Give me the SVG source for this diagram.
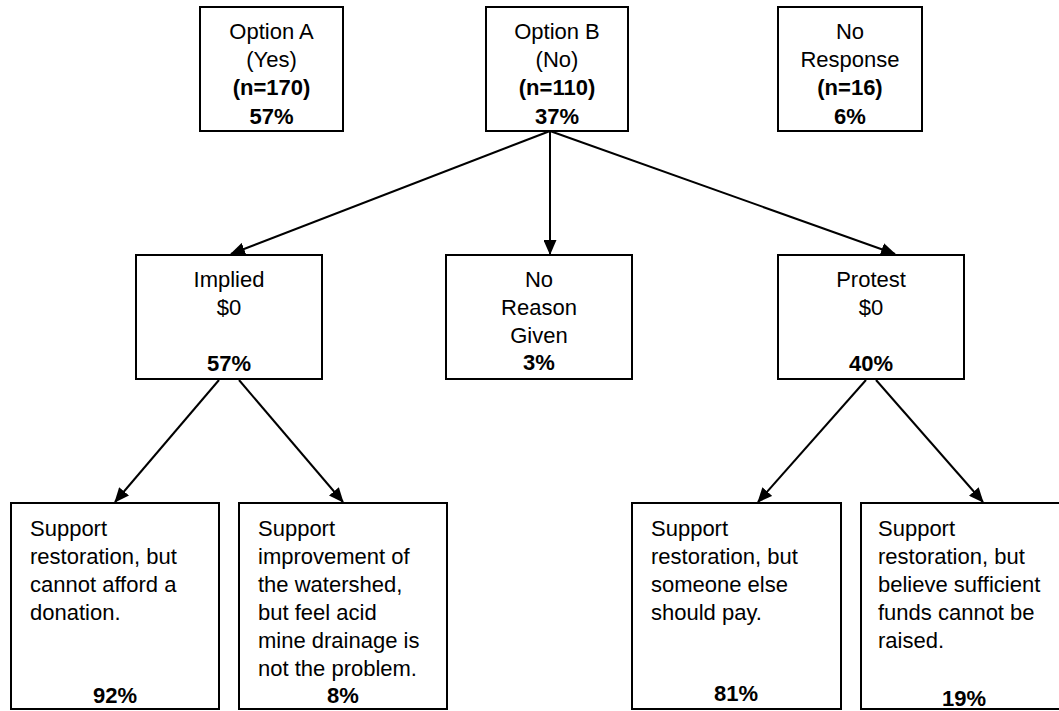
<svg xmlns="http://www.w3.org/2000/svg" width="1059" height="711" viewBox="0 0 1059 711">
<defs>
<style>
.box{fill:#fff;stroke:#000;stroke-width:2}
text{font-family:"Liberation Sans",Arial,sans-serif;font-size:22px;fill:#000}
.c{text-anchor:middle}
.b{font-weight:bold}
.conn line{stroke:#000;stroke-width:2;fill:none}
</style>
<marker id="ah" markerUnits="userSpaceOnUse" markerWidth="15" markerHeight="13" refX="14" refY="6.5" orient="auto">
<path d="M0,0 L15,6.5 L0,13 z" fill="#000"/>
</marker>
</defs>
<rect width="1059" height="711" fill="#fff"/>

<g id="conns" class="conn">
<line x1="550" y1="131" x2="231" y2="254" marker-end="url(#ah)"/>
<line x1="550" y1="131" x2="550" y2="254" marker-end="url(#ah)"/>
<line x1="550" y1="131" x2="895" y2="254" marker-end="url(#ah)"/>
<line x1="219" y1="380" x2="115" y2="502" marker-end="url(#ah)"/>
<line x1="239" y1="380" x2="343" y2="502" marker-end="url(#ah)"/>
<line x1="866" y1="380" x2="758" y2="502" marker-end="url(#ah)"/>
<line x1="876" y1="380" x2="983" y2="502" marker-end="url(#ah)"/>
</g>

<g id="optA">
<rect class="box" x="200" y="7" width="143" height="124"/>
<text class="c" x="271.5" y="39">Option A</text>
<text class="c" x="271.5" y="67">(Yes)</text>
<text class="c b" x="271.5" y="95">(n=170)</text>
<text class="c b" x="271.5" y="124">57%</text>
</g>
<g id="optB">
<rect class="box" x="486" y="7" width="142" height="124"/>
<text class="c" x="557" y="39">Option B</text>
<text class="c" x="557" y="67">(No)</text>
<text class="c b" x="557" y="95">(n=110)</text>
<text class="c b" x="557" y="124">37%</text>
</g>
<g id="noResp">
<rect class="box" x="778" y="7" width="144" height="124"/>
<text class="c" x="850" y="39">No</text>
<text class="c" x="850" y="67">Response</text>
<text class="c b" x="850" y="95">(n=16)</text>
<text class="c b" x="850" y="124">6%</text>
</g>

<g id="implied">
<rect class="box" x="136" y="255" width="186" height="124"/>
<text class="c" x="229" y="287">Implied</text>
<text class="c" x="229" y="315">$0</text>
<text class="c b" x="229" y="371">57%</text>
</g>
<g id="noReason">
<rect class="box" x="446" y="255" width="186" height="124"/>
<text class="c" x="539" y="287">No</text>
<text class="c" x="539" y="315">Reason</text>
<text class="c" x="539" y="343">Given</text>
<text class="c b" x="539" y="370">3%</text>
</g>
<g id="protest">
<rect class="box" x="778" y="255" width="186" height="124"/>
<text class="c" x="871" y="287">Protest</text>
<text class="c" x="871" y="315">$0</text>
<text class="c b" x="871" y="371">40%</text>
</g>

<g id="afford">
<rect class="box" x="11" y="503" width="208" height="206"/>
<text x="30" y="536">Support</text>
<text x="30" y="564">restoration, but</text>
<text x="30" y="592">cannot afford a</text>
<text x="30" y="620">donation.</text>
<text class="c b" x="115" y="703">92%</text>
</g>
<g id="amd">
<rect class="box" x="239" y="503" width="208" height="206"/>
<text x="258" y="536">Support</text>
<text x="258" y="564">improvement of</text>
<text x="258" y="592">the watershed,</text>
<text x="258" y="620">but feel acid</text>
<text x="258" y="648">mine drainage is</text>
<text x="258" y="676">not the problem.</text>
<text class="c b" x="343" y="703">8%</text>
</g>
<g id="elsePay">
<rect class="box" x="632" y="503" width="209" height="206"/>
<text x="651" y="536">Support</text>
<text x="651" y="564">restoration, but</text>
<text x="651" y="592">someone else</text>
<text x="651" y="620">should pay.</text>
<text class="c b" x="736" y="701">81%</text>
</g>
<g id="funds">
<rect class="box" x="861" y="503" width="208" height="206"/>
<text x="878" y="536">Support</text>
<text x="878" y="564">restoration, but</text>
<text x="878" y="592">believe sufficient</text>
<text x="878" y="620">funds cannot be</text>
<text x="878" y="648">raised.</text>
<text class="c b" x="964" y="706">19%</text>
</g>
</svg>
